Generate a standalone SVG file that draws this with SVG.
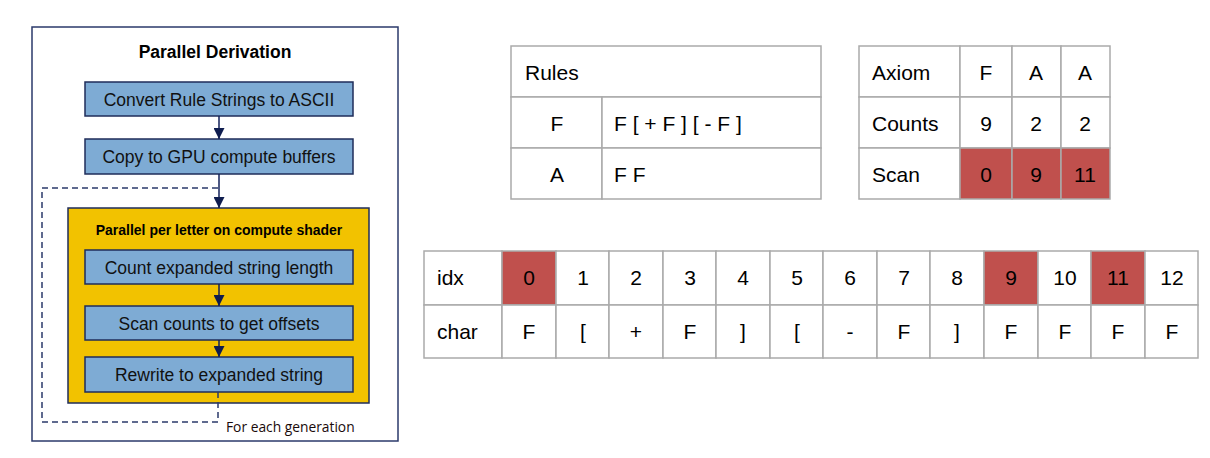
<svg xmlns="http://www.w3.org/2000/svg" width="1210" height="458" viewBox="0 0 1210 458">
<defs>
<style>
.frame{fill:#ffffff;stroke:#2b3a6b;stroke-width:1.5}
.step{fill:#7eabd4;stroke:#1f2d5a;stroke-width:1.5}
.yel{fill:#f2c200;stroke:#1f2d5a;stroke-width:1.5}
.st{font-family:"Liberation Sans",Arial,sans-serif;font-size:17.5px;fill:#111;text-anchor:middle}
.ttl{font-family:"Liberation Sans",Arial,sans-serif;font-size:17.5px;font-weight:bold;fill:#000;text-anchor:middle}
.sub{font-family:"Liberation Sans",Arial,sans-serif;font-size:14px;font-weight:bold;fill:#000;text-anchor:middle}
.gen{font-family:"Open Sans",sans-serif;font-size:13.8px;fill:#1a0a0a}
.line{fill:none;stroke:#12215a;stroke-width:1.5}
.dash{fill:none;stroke:#2b3a6b;stroke-width:1.5;stroke-dasharray:6,4}
.cell{fill:#ffffff;stroke:#aaaaaa;stroke-width:1.5}
.red{fill:#c0504d;stroke:#aaaaaa;stroke-width:1.5}
.tx{font-family:"Liberation Sans",Arial,sans-serif;font-size:21px;fill:#000}
.tc{font-family:"Liberation Sans",Arial,sans-serif;font-size:21px;fill:#000;text-anchor:middle}
</style>
<marker id="arr" viewBox="0 0 10 10" refX="10" refY="5" markerWidth="11" markerHeight="11" markerUnits="userSpaceOnUse" orient="auto">
<path d="M0,0 L10,5 L0,10 z" fill="#0f1d4f"/>
</marker>
</defs>

<g id="frame">
<rect class="frame" x="32" y="27" width="366" height="414"/>
<text class="ttl" x="215" y="58">Parallel Derivation</text>
</g>

<g id="convert">
<rect class="step" x="85" y="82" width="268" height="34"/>
<text class="st" x="219" y="105.5">Convert Rule Strings to ASCII</text>
</g>
<g id="copy">
<rect class="step" x="85" y="139" width="268" height="35"/>
<text class="st" x="219" y="162.5">Copy to GPU compute buffers</text>
</g>
<g id="shader">
<rect class="yel" x="68" y="208" width="301" height="195"/>
<text class="sub" x="219" y="235">Parallel per letter on compute shader</text>
</g>
<g id="count">
<rect class="step" x="85" y="250" width="268" height="34"/>
<text class="st" x="219" y="273.5">Count expanded string length</text>
</g>
<g id="scan">
<rect class="step" x="85" y="306" width="268" height="34"/>
<text class="st" x="219" y="329.5">Scan counts to get offsets</text>
</g>
<g id="rewrite">
<rect class="step" x="85" y="357" width="268" height="35"/>
<text class="st" x="219" y="381">Rewrite to expanded string</text>
</g>

<g id="connectors">
<line class="line" x1="219" y1="116" x2="219" y2="139" marker-end="url(#arr)"/>
<line class="line" x1="219" y1="174" x2="219" y2="208" marker-end="url(#arr)"/>
<line class="line" x1="219" y1="284" x2="219" y2="306" marker-end="url(#arr)"/>
<line class="line" x1="219" y1="340" x2="219" y2="357" marker-end="url(#arr)"/>
<path class="dash" d="M218,392 V422 H42 V188 H219"/>
</g>
<text class="gen" x="226" y="432">For each generation</text>

<g id="rules">
<rect class="cell" x="511" y="46" width="310" height="51"/>
<rect class="cell" x="511" y="97" width="91" height="51"/>
<rect class="cell" x="602" y="97" width="219" height="51"/>
<rect class="cell" x="511" y="148" width="91" height="51"/>
<rect class="cell" x="602" y="148" width="219" height="51"/>
<text class="tx" x="525" y="80">Rules</text>
<text class="tc" x="557" y="131">F</text>
<text class="tx" x="614" y="131">F [ + F ] [ - F ]</text>
<text class="tc" x="557" y="182">A</text>
<text class="tx" x="614" y="182">F F</text>
</g>

<g id="axiom">
<rect class="cell" x="859" y="46" width="101" height="51"/>
<rect class="cell" x="960" y="46" width="52" height="51"/>
<rect class="cell" x="1012" y="46" width="49" height="51"/>
<rect class="cell" x="1061" y="46" width="49" height="51"/>
<rect class="cell" x="859" y="97" width="101" height="51"/>
<rect class="cell" x="960" y="97" width="52" height="51"/>
<rect class="cell" x="1012" y="97" width="49" height="51"/>
<rect class="cell" x="1061" y="97" width="49" height="51"/>
<rect class="cell" x="859" y="148" width="101" height="51"/>
<rect class="red" x="960" y="148" width="52" height="51"/>
<rect class="red" x="1012" y="148" width="49" height="51"/>
<rect class="red" x="1061" y="148" width="49" height="51"/>
<text class="tx" x="872" y="80">Axiom</text>
<text class="tc" x="986" y="80">F</text>
<text class="tc" x="1036" y="80">A</text>
<text class="tc" x="1085" y="80">A</text>
<text class="tx" x="872" y="131">Counts</text>
<text class="tc" x="986" y="131">9</text>
<text class="tc" x="1036" y="131">2</text>
<text class="tc" x="1085" y="131">2</text>
<text class="tx" x="872" y="182">Scan</text>
<text class="tc" x="986" y="182">0</text>
<text class="tc" x="1036" y="182">9</text>
<text class="tc" x="1085" y="182">11</text>
</g>

<g id="string">
<rect class="cell" x="424" y="251" width="78" height="54"/>
<rect class="cell" x="424" y="305" width="78" height="53"/>
<rect class="red" x="502" y="251" width="54" height="54"/>
<rect class="cell" x="556" y="251" width="53" height="54"/>
<rect class="cell" x="609" y="251" width="54" height="54"/>
<rect class="cell" x="663" y="251" width="53" height="54"/>
<rect class="cell" x="716" y="251" width="54" height="54"/>
<rect class="cell" x="770" y="251" width="53" height="54"/>
<rect class="cell" x="823" y="251" width="54" height="54"/>
<rect class="cell" x="877" y="251" width="53" height="54"/>
<rect class="cell" x="930" y="251" width="54" height="54"/>
<rect class="red" x="984" y="251" width="54" height="54"/>
<rect class="cell" x="1038" y="251" width="53" height="54"/>
<rect class="red" x="1091" y="251" width="54" height="54"/>
<rect class="cell" x="1145" y="251" width="53" height="54"/>
<rect class="cell" x="502" y="305" width="54" height="53"/>
<rect class="cell" x="556" y="305" width="53" height="53"/>
<rect class="cell" x="609" y="305" width="54" height="53"/>
<rect class="cell" x="663" y="305" width="53" height="53"/>
<rect class="cell" x="716" y="305" width="54" height="53"/>
<rect class="cell" x="770" y="305" width="53" height="53"/>
<rect class="cell" x="823" y="305" width="54" height="53"/>
<rect class="cell" x="877" y="305" width="53" height="53"/>
<rect class="cell" x="930" y="305" width="54" height="53"/>
<rect class="cell" x="984" y="305" width="54" height="53"/>
<rect class="cell" x="1038" y="305" width="53" height="53"/>
<rect class="cell" x="1091" y="305" width="54" height="53"/>
<rect class="cell" x="1145" y="305" width="53" height="53"/>
<text class="tx" x="437" y="285">idx</text>
<text class="tx" x="437" y="339">char</text>
<text class="tc" x="529" y="285">0</text>
<text class="tc" x="583" y="285">1</text>
<text class="tc" x="636" y="285">2</text>
<text class="tc" x="690" y="285">3</text>
<text class="tc" x="743" y="285">4</text>
<text class="tc" x="797" y="285">5</text>
<text class="tc" x="850" y="285">6</text>
<text class="tc" x="904" y="285">7</text>
<text class="tc" x="957" y="285">8</text>
<text class="tc" x="1011" y="285">9</text>
<text class="tc" x="1065" y="285">10</text>
<text class="tc" x="1118" y="285">11</text>
<text class="tc" x="1172" y="285">12</text>
<text class="tc" x="529" y="339">F</text>
<text class="tc" x="583" y="339">[</text>
<text class="tc" x="636" y="339">+</text>
<text class="tc" x="690" y="339">F</text>
<text class="tc" x="743" y="339">]</text>
<text class="tc" x="797" y="339">[</text>
<text class="tc" x="850" y="339">-</text>
<text class="tc" x="904" y="339">F</text>
<text class="tc" x="957" y="339">]</text>
<text class="tc" x="1011" y="339">F</text>
<text class="tc" x="1065" y="339">F</text>
<text class="tc" x="1118" y="339">F</text>
<text class="tc" x="1172" y="339">F</text>
</g>
</svg>
